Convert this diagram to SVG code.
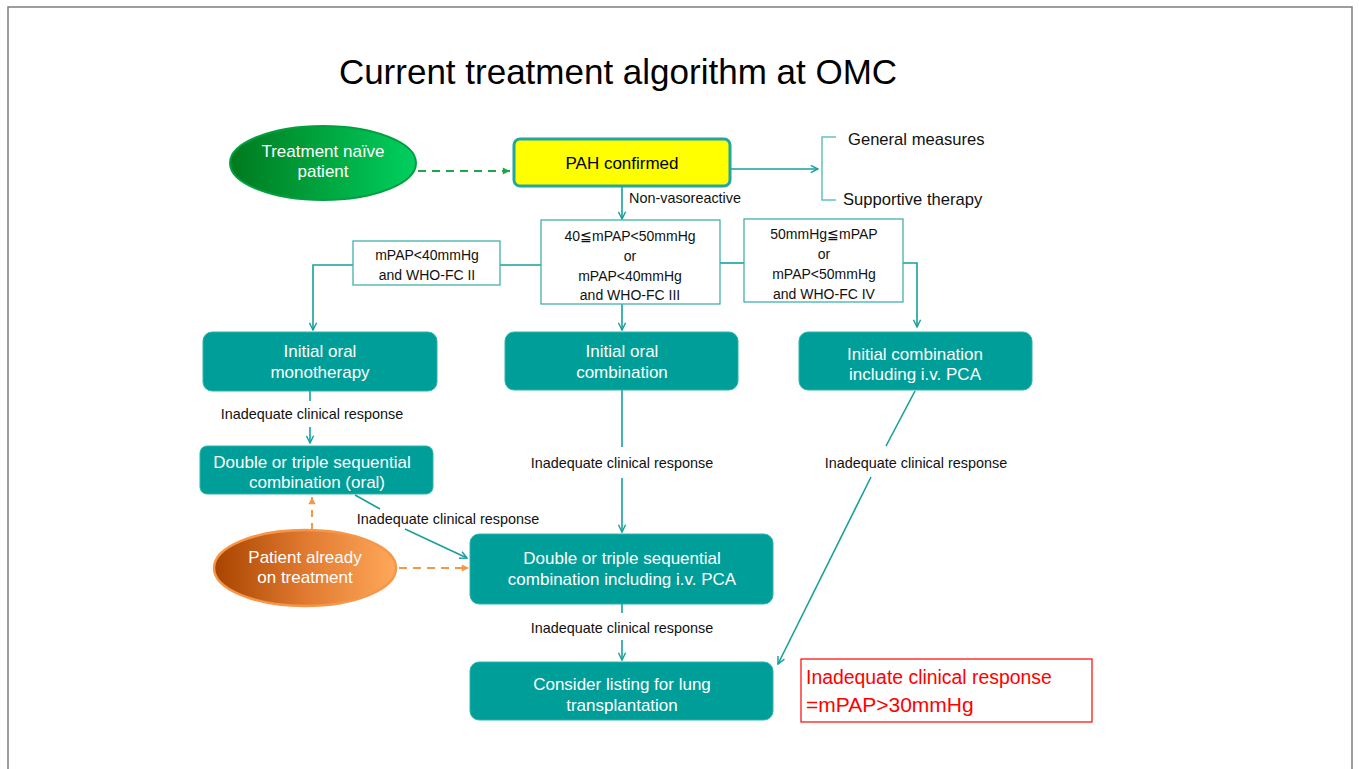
<svg xmlns="http://www.w3.org/2000/svg" width="1359" height="769" viewBox="0 0 1359 769">
<style>
text{font-family:"Liberation Sans",Arial,sans-serif;text-anchor:middle}
.t{font-size:35px;fill:#000}
.w{font-size:17px;fill:#fff}
.b{font-size:14px;fill:#111}
.l{font-size:14.4px;fill:#111}
.g{font-size:16.6px;fill:#111;text-anchor:start}
.teal{fill:#009e99;stroke:#2fb3ad;stroke-width:1}
.cond{fill:#fff;stroke:#3fb1ac;stroke-width:1.3}
.c{fill:none;stroke:#16a09b;stroke-width:1.6}
</style>
<defs>
<marker id="a" viewBox="0 0 10 10" refX="9" refY="5" markerWidth="9" markerHeight="9" markerUnits="userSpaceOnUse" orient="auto">
<path d="M1,1 L9,5 L1,9" fill="none" stroke="#16a09b" stroke-width="1.6"/>
</marker>
<marker id="ag" viewBox="0 0 10 10" refX="9" refY="5" markerWidth="9" markerHeight="9" markerUnits="userSpaceOnUse" orient="auto">
<path d="M1,1 L9,5 L1,9 Z" fill="#1fa64a"/>
</marker>
<marker id="ao" viewBox="0 0 10 10" refX="9" refY="5" markerWidth="9" markerHeight="9" markerUnits="userSpaceOnUse" orient="auto">
<path d="M1,1 L9,5 L1,9 Z" fill="#f79646"/>
</marker>
<linearGradient id="gg" x1="0" y1="0" x2="1" y2="0">
<stop offset="0" stop-color="#007a1e"/>
<stop offset="1" stop-color="#00d060"/>
</linearGradient>
<linearGradient id="go" x1="0" y1="0" x2="1" y2="0">
<stop offset="0" stop-color="#a84400"/>
<stop offset="0.5" stop-color="#e07a30"/>
<stop offset="1" stop-color="#ffa85a"/>
</linearGradient>
</defs>

<rect width="1359" height="769" fill="#fff"/>
<path d="M8,775 V7 H1352 V775" fill="none" stroke="#7f7f7f" stroke-width="1.5"/>

<text class="t" x="618" y="84">Current treatment algorithm at OMC</text>

<g id="connectors">
<line x1="418" y1="171" x2="510" y2="171" stroke="#1fa64a" stroke-width="2" stroke-dasharray="8,6" marker-end="url(#ag)"/>
<line class="c" x1="730" y1="169" x2="818" y2="169" marker-end="url(#a)"/>
<path d="M836,137 H822 V200 H836" fill="none" stroke="#5fc4bf" stroke-width="1.5"/>
<line class="c" x1="622" y1="186" x2="622" y2="219" marker-end="url(#a)"/>
<path class="c" d="M353,265 H313 V330" marker-end="url(#a)"/>
<line class="c" x1="500" y1="265" x2="541" y2="265"/>
<line class="c" x1="720" y1="263" x2="744" y2="263"/>
<path class="c" d="M903,263 H917 V327" marker-end="url(#a)"/>
<line class="c" x1="622" y1="304" x2="622" y2="330" marker-end="url(#a)"/>
<line class="c" x1="310" y1="391" x2="310" y2="401"/>
<line class="c" x1="310" y1="427" x2="310" y2="443" marker-end="url(#a)"/>
<line x1="312" y1="530" x2="312" y2="497" stroke="#f79646" stroke-width="2" stroke-dasharray="7,6" marker-end="url(#ao)"/>
<line x1="399" y1="568" x2="469" y2="568" stroke="#f79646" stroke-width="2" stroke-dasharray="8,6" marker-end="url(#ao)"/>
<line class="c" x1="355" y1="495" x2="380" y2="509"/>
<line class="c" x1="405" y1="529" x2="467" y2="558" marker-end="url(#a)"/>
<line class="c" x1="622" y1="390" x2="622" y2="447"/>
<line class="c" x1="622" y1="478" x2="622" y2="532" marker-end="url(#a)"/>
<line class="c" x1="622" y1="604" x2="622" y2="613"/>
<line class="c" x1="622" y1="640" x2="622" y2="660" marker-end="url(#a)"/>
<line class="c" x1="915" y1="391" x2="886" y2="446"/>
<line class="c" x1="871" y1="477" x2="778" y2="664" marker-end="url(#a)"/>
</g>

<g id="naive">
<ellipse cx="323" cy="163" rx="93" ry="37" fill="url(#gg)" stroke="#00a040" stroke-width="2"/>
<text class="w" x="323" y="157">Treatment naïve</text>
<text class="w" x="323" y="177">patient</text>
</g>

<g id="pah">
<rect x="514" y="139" width="216" height="47" rx="6" fill="#ffff00" stroke="#24a6a0" stroke-width="3"/>
<text x="622" y="169" style="font-size:17px;fill:#000">PAH confirmed</text>
</g>

<g id="general">
<text class="g" x="848" y="145">General measures</text>
</g>
<g id="supportive">
<text class="g" x="843" y="205">Supportive therapy</text>
</g>

<g id="nonvaso">
<text class="l" x="629" y="203" style="text-anchor:start">Non-vasoreactive</text>
</g>

<g id="cond-mid">
<rect class="cond" x="541" y="220" width="179" height="84"/>
<text class="b" x="630" y="241">40≦mPAP&lt;50mmHg</text>
<text class="b" x="630" y="261">or</text>
<text class="b" x="630" y="281">mPAP&lt;40mmHg</text>
<text class="b" x="630" y="300">and WHO-FC III</text>
</g>

<g id="cond-left">
<rect class="cond" x="353" y="241" width="147" height="44"/>
<text class="b" x="427" y="260">mPAP&lt;40mmHg</text>
<text class="b" x="427" y="280">and WHO-FC II</text>
</g>

<g id="cond-right">
<rect class="cond" x="744" y="219" width="159" height="83"/>
<text class="b" x="824" y="239">50mmHg≦mPAP</text>
<text class="b" x="824" y="259">or</text>
<text class="b" x="824" y="279">mPAP&lt;50mmHg</text>
<text class="b" x="824" y="299">and WHO-FC IV</text>
</g>

<g id="mono">
<rect class="teal" x="203" y="332" width="234" height="59" rx="9"/>
<text class="w" x="320" y="357">Initial oral</text>
<text class="w" x="320" y="378">monotherapy</text>
</g>

<g id="oralcomb">
<rect class="teal" x="505" y="332" width="233" height="58" rx="9"/>
<text class="w" x="622" y="357">Initial oral</text>
<text class="w" x="622" y="378">combination</text>
</g>

<g id="ivcomb">
<rect class="teal" x="799" y="332" width="233" height="58" rx="9"/>
<text class="w" x="915" y="360">Initial combination</text>
<text class="w" x="915" y="380">including i.v. PCA</text>
</g>

<g id="lbl1"><text class="l" x="312" y="419">Inadequate clinical response</text></g>

<g id="seqoral">
<rect class="teal" x="200" y="446" width="233" height="48" rx="7"/>
<text class="w" x="312" y="468">Double or triple sequential</text>
<text class="w" x="317" y="488">combination (oral)</text>
</g>

<g id="lbl2"><text class="l" x="622" y="468">Inadequate clinical response</text></g>
<g id="lbl3"><text class="l" x="448" y="524">Inadequate clinical response</text></g>
<g id="lbl4"><text class="l" x="916" y="468">Inadequate clinical response</text></g>

<g id="already">
<ellipse cx="305" cy="568" rx="91" ry="38" fill="url(#go)" stroke="#f79646" stroke-width="2.5"/>
<text class="w" x="305" y="563">Patient already</text>
<text class="w" x="305" y="583">on treatment</text>
</g>

<g id="seqiv">
<rect class="teal" x="470" y="534" width="303" height="70" rx="9"/>
<text class="w" x="622" y="564">Double or triple sequential</text>
<text class="w" x="622" y="585">combination including i.v. PCA</text>
</g>

<g id="lbl5"><text class="l" x="622" y="633">Inadequate clinical response</text></g>

<g id="lung">
<rect class="teal" x="470" y="662" width="303" height="58" rx="9"/>
<text class="w" x="622" y="690">Consider listing for lung</text>
<text class="w" x="622" y="711">transplantation</text>
</g>

<g id="note">
<rect x="801" y="659" width="291" height="63" fill="#fff" stroke="#ff0000" stroke-width="1.2"/>
<text x="806" y="684" style="font-size:19.4px;fill:#ff0000;text-anchor:start">Inadequate clinical response</text>
<text x="806" y="712" style="font-size:21px;fill:#ff0000;text-anchor:start">=mPAP&gt;30mmHg</text>
</g>
</svg>
